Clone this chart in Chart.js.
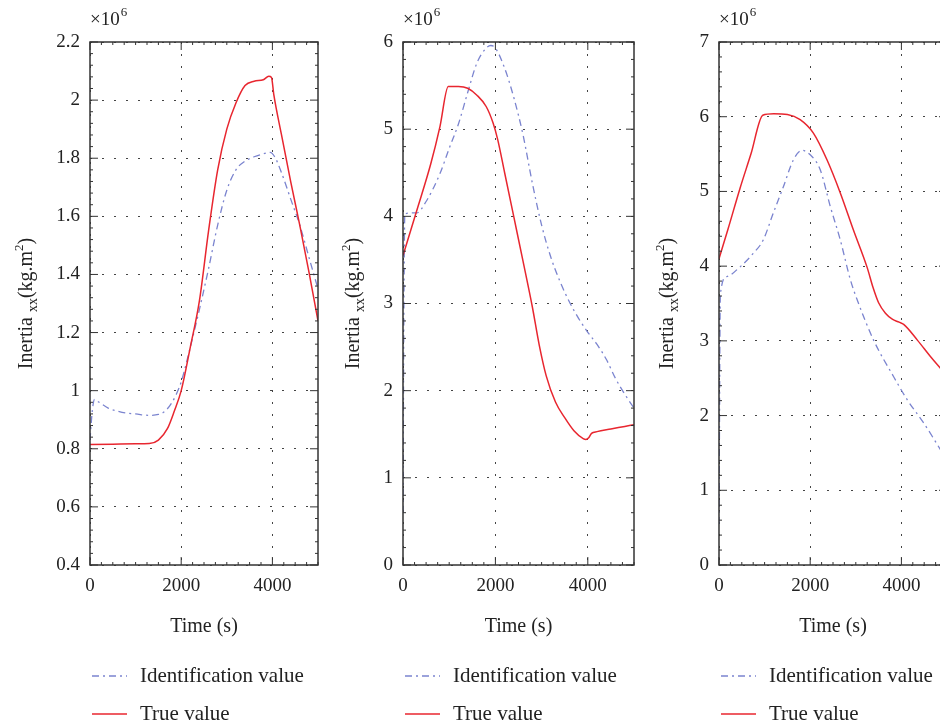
<!DOCTYPE html>
<html>
<head>
<meta charset="utf-8">
<script src="https://cdn.jsdelivr.net/npm/chart.js@4"></script>
<style>
  html, body { margin: 0; padding: 0; overflow: hidden; background: #fff; }
  body { width: 940px; height: 727px; position: relative; }
  canvas { position: absolute; top: 0; }
</style>
</head>
<body>
<canvas id="c1" width="320" height="727" style="left:0px"></canvas>
<canvas id="c2" width="320" height="727" style="left:320px"></canvas>
<canvas id="c3" width="310" height="727" style="left:640px"></canvas>
<script>
// time axis ticks (s)
const xTicks = [0, 2000, 4000];

// panel 1  (values x10^6 kg.m2)
const yTicks1 = [0.4, 0.6, 0.8, 1, 1.2, 1.4, 1.6, 1.8, 2, 2.2];
const timeTrue1 = [0, 500, 1000, 1300, 1500, 1700, 1850, 2000, 2200, 2400, 2600, 2800, 3000, 3200, 3400, 3600, 3800, 3920, 3980, 4030, 4200, 4400, 4600, 4800, 5000];
const trueValue1 = [0.815, 0.816, 0.817, 0.818, 0.83, 0.87, 0.93, 1.0, 1.15, 1.31, 1.55, 1.76, 1.90, 1.99, 2.05, 2.065, 2.07, 2.082, 2.078, 2.02, 1.88, 1.72, 1.57, 1.41, 1.24];
const timeIdent1 = [0, 50, 100, 200, 400, 600, 800, 1000, 1300, 1500, 1650, 1800, 1900, 2000, 2200, 2400, 2600, 2800, 3000, 3200, 3400, 3600, 3800, 3950, 4050, 4200, 4400, 4600, 4800, 5000];
const identValue1 = [0.83, 0.93, 0.97, 0.96, 0.94, 0.93, 0.923, 0.92, 0.915, 0.918, 0.93, 0.96, 0.99, 1.03, 1.15, 1.28, 1.42, 1.57, 1.69, 1.76, 1.79, 1.805, 1.815, 1.82, 1.805, 1.75, 1.66, 1.57, 1.46, 1.35];

// panel 2
const yTicks2 = [0, 1, 2, 3, 4, 5, 6];
const timeTrue2 = [0, 300, 600, 800, 980, 1200, 1400, 1600, 1800, 1950, 2050, 2200, 2400, 2600, 2800, 2950, 3100, 3300, 3500, 3700, 3900, 3960, 4020, 4080, 4200, 4500, 4800, 5000];
const trueValue2 = [3.55, 4.07, 4.6, 5.03, 5.49, 5.49, 5.47, 5.39, 5.26, 5.07, 4.88, 4.5, 3.99, 3.48, 2.96, 2.52, 2.17, 1.87, 1.69, 1.54, 1.45, 1.44, 1.46, 1.51, 1.53, 1.56, 1.59, 1.61];
const timeIdent2 = [0, 20, 40, 300, 500, 800, 1000, 1200, 1400, 1600, 1800, 1900, 2000, 2200, 2400, 2600, 2800, 3000, 3200, 3400, 3600, 3800, 4000, 4200, 4400, 4600, 4800, 5000];
const identValue2 = [0.6, 3.0, 4.03, 4.04, 4.17, 4.49, 4.78, 5.06, 5.42, 5.76, 5.93, 5.96, 5.93, 5.7, 5.36, 4.93, 4.38, 3.9, 3.53, 3.25, 3.02, 2.83, 2.67, 2.53, 2.36, 2.14, 1.96, 1.8];

// panel 3
const yTicks3 = [0, 1, 2, 3, 4, 5, 6, 7];
const timeTrue3 = [0, 200, 460, 700, 960, 1200, 1500, 1780, 2070, 2370, 2660, 2950, 3250, 3380, 3500, 3650, 3800, 3950, 4050, 4350, 4650, 4860, 5000];
const trueValue3 = [4.1, 4.5, 5.04, 5.5, 6.02, 6.04, 6.03, 5.96, 5.78, 5.42, 4.98, 4.48, 3.98, 3.71, 3.51, 3.37, 3.29, 3.25, 3.22, 3.01, 2.78, 2.63, 2.53];
const timeIdent3 = [0, 30, 170, 460, 750, 970, 1190, 1410, 1630, 1820, 2000, 2220, 2440, 2660, 2880, 3030, 3390, 3830, 4130, 4490, 4860, 5000];
const identValue3 = [0.55, 3.62, 3.86, 3.99, 4.17, 4.35, 4.71, 5.06, 5.42, 5.55, 5.49, 5.29, 4.80, 4.35, 3.82, 3.55, 3.01, 2.52, 2.21, 1.90, 1.54, 1.40];

const FONT = "'Liberation Serif', 'Times New Roman', serif";
const RED = '#e8262f';
const BLUE = '#7b84cf';

const pts = (xs, ys) => xs.map((t, i) => ({ x: t, y: ys[i] }));

// axes box, inward ticks, titles and legend
const decorations = {
  id: 'decorations',
  afterDraw(chart, args, o) {
    const { ctx, chartArea: a, scales: { x, y } } = chart;
    ctx.save();

    // minor/major tick marks
    ctx.strokeStyle = '#333';
    ctx.lineWidth = 1;
    ctx.beginPath();
    for (let t = 0; t <= 5000; t += 250) {
      const px = x.getPixelForValue(t);
      const len = t % 2000 === 0 ? 8 : 3;
      ctx.moveTo(px, a.bottom); ctx.lineTo(px, a.bottom - len);
      ctx.moveTo(px, a.top); ctx.lineTo(px, a.top + len);
    }
    const n = Math.round((o.yMax - o.yMin) / o.yMinor);
    for (let i = 0; i <= n; i++) {
      const py = y.getPixelForValue(o.yMin + i * o.yMinor);
      const len = i % 5 === 0 ? 8 : 3;
      ctx.moveTo(a.left, py); ctx.lineTo(a.left + len, py);
      ctx.moveTo(a.right, py); ctx.lineTo(a.right - len, py);
    }
    ctx.stroke();

    ctx.lineWidth = 1.5;
    ctx.strokeRect(a.left, a.top, a.right - a.left, a.bottom - a.top);

    ctx.fillStyle = '#222';
    ctx.textBaseline = 'alphabetic';

    // x10^6
    ctx.textAlign = 'left';
    ctx.font = '19px ' + FONT;
    ctx.fillText('\u00d710', a.left, 25);
    const w10 = ctx.measureText('\u00d710').width;
    ctx.font = '13px ' + FONT;
    ctx.fillText('6', a.left + w10 + 1, 16);

    // x title
    ctx.textAlign = 'center';
    ctx.textBaseline = 'middle';
    ctx.font = '20px ' + FONT;
    ctx.fillText('Time (s)', (a.left + a.right) / 2, 627);

    // y title with sub/superscript
    const parts = [
      { t: 'Inertia ', s: 20, d: 0 },
      { t: 'xx', s: 14, d: 5 },
      { t: '(kg.m', s: 20, d: 0 },
      { t: '2', s: 13, d: -9 },
      { t: ')', s: 20, d: 0 }
    ];
    let total = 0;
    parts.forEach(p => { ctx.font = p.s + 'px ' + FONT; p.w = ctx.measureText(p.t).width; total += p.w; });
    ctx.translate(o.titleX, (a.top + a.bottom) / 2);
    ctx.rotate(-Math.PI / 2);
    ctx.textAlign = 'left';
    ctx.textBaseline = 'alphabetic';
    let cx = -total / 2;
    parts.forEach(p => {
      ctx.font = p.s + 'px ' + FONT;
      ctx.fillText(p.t, cx, 7 + p.d);
      cx += p.w;
    });
    ctx.setTransform(1, 0, 0, 1, 0, 0);

    // legend
    const rows = [676, 714];
    const items = [chart.data.datasets[1], chart.data.datasets[0]];
    items.forEach((ds, i) => {
      ctx.strokeStyle = ds.borderColor;
      ctx.lineWidth = ds.borderWidth;
      ctx.setLineDash(ds.borderDash || []);
      ctx.beginPath();
      ctx.moveTo(a.left + 2, rows[i]);
      ctx.lineTo(a.left + 37, rows[i]);
      ctx.stroke();
      ctx.setLineDash([]);
      ctx.fillStyle = '#222';
      ctx.font = '21px ' + FONT;
      ctx.textAlign = 'left';
      ctx.textBaseline = 'middle';
      ctx.fillText(ds.label, a.left + 50, rows[i]);
    });
    ctx.restore();
  }
};

function makePanel(id, cw, left, right, yTicks, minor, titleX, tTrue, vTrue, tIdent, vIdent) {
  const yMin = yTicks[0], yMax = yTicks[yTicks.length - 1];
  return new Chart(document.getElementById(id), {
    type: 'line',
    data: {
      datasets: [
        {
          label: 'True value',
          data: pts(tTrue, vTrue),
          borderColor: RED,
          borderWidth: 1.5,
          pointRadius: 0,
          cubicInterpolationMode: 'monotone',
          order: 0
        },
        {
          label: 'Identification value',
          data: pts(tIdent, vIdent),
          borderColor: BLUE,
          borderWidth: 1.3,
          borderDash: [7, 4, 2, 4],
          pointRadius: 0,
          cubicInterpolationMode: 'monotone',
          order: 1
        }
      ]
    },
    options: {
      responsive: false,
      animation: false,
      devicePixelRatio: 1,
      layout: { padding: { left: 0, right: cw - right, top: 42, bottom: 727 - 565 - 45 } },
      plugins: {
        legend: { display: false },
        tooltip: { enabled: false },
        decorations: { yMin: yMin, yMax: yMax, yMinor: minor, titleX: titleX }
      },
      scales: {
        x: {
          type: 'linear',
          min: 0,
          max: 5000,
          afterBuildTicks: s => { s.ticks = xTicks.map(v => ({ value: v })); },
          afterFit: s => { s.height = 45; },
          ticks: { font: { family: FONT, size: 19 }, color: '#222', padding: 10, maxRotation: 0, autoSkip: false, callback: v => String(v) },
          grid: { color: '#444', lineWidth: 1, drawTicks: false },
          border: { display: false, dash: [2, 10] }
        },
        y: {
          min: yMin,
          max: yMax,
          afterBuildTicks: s => { s.ticks = yTicks.map(v => ({ value: v })); },
          afterFit: s => { s.width = left; },
          ticks: { font: { family: FONT, size: 19 }, color: '#222', padding: 10, callback: v => String(v) },
          grid: { color: '#444', lineWidth: 1, drawTicks: false },
          border: { display: false, dash: [2, 10] }
        }
      }
    },
    plugins: [decorations]
  });
}

makePanel('c1', 320, 90, 318, yTicks1, 0.04, 25, timeTrue1, trueValue1, timeIdent1, identValue1);
makePanel('c2', 320, 83, 314, yTicks2, 0.2, 32, timeTrue2, trueValue2, timeIdent2, identValue2);
makePanel('c3', 310, 79, 307, yTicks3, 0.2, 26, timeTrue3, trueValue3, timeIdent3, identValue3);
</script>
</body>
</html>
